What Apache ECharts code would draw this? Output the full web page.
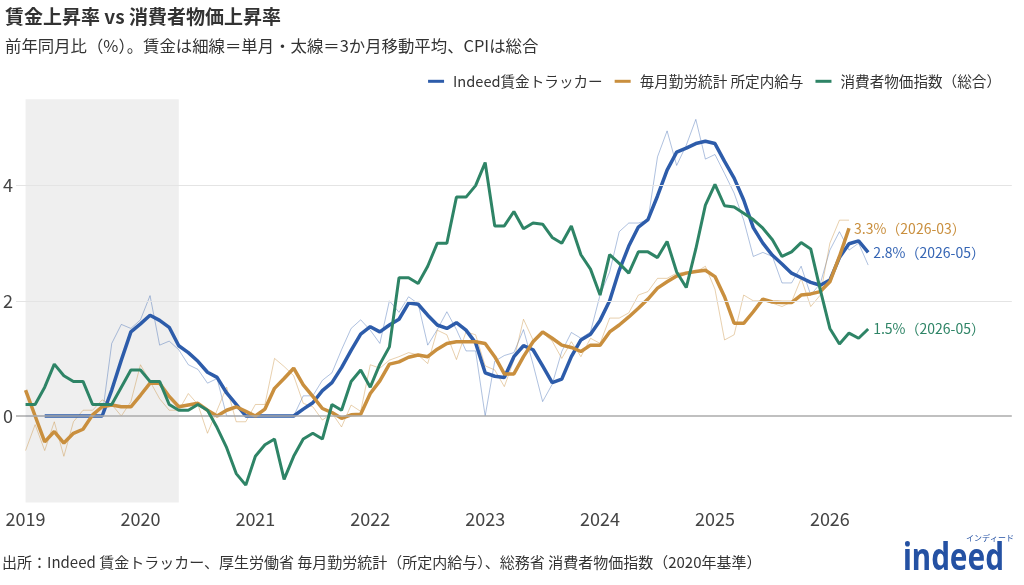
<!DOCTYPE html>
<html>
<head>
<meta charset="utf-8">
<script src="https://cdn.jsdelivr.net/npm/echarts@6/dist/echarts.min.js"></script>
<style>
  html, body { margin: 0; padding: 0; background: #fff; }
  #chart { width: 1024px; height: 585px; }
</style>
</head>
<body>
<div id="chart"></div>
<script>
    // 月次カテゴリ（2018-12 〜 2027-08、右端は余白）
    var months = [];
    for (var y = 2018; y <= 2027; y++) {
        for (var m = 1; m <= 12; m++) {
            var key = y + '-' + (m < 10 ? '0' : '') + m;
            if (key >= '2018-12' && key <= '2027-08') months.push(key);
        }
    }
    var yearTicks = ['2019', '2020', '2021', '2022', '2023', '2024', '2025', '2026'];
    var shadeRange = ['2019-01', '2020-05'];

    // Indeed 賃金トラッカー（単月）2019-01〜
    var indeedStart = '2019-01';
    var indeedMonthly = [
        0, 0, 0, 0, 0, 0, 0, 0, 0,
        1.26, 1.59, 1.52, 1.67, 2.09, 1.23, 1.30, 1.15, 0.89, 0.81, 0.57, 0.65,
        0, 0, 0, 0, 0, 0, 0, 0,
        0.35, 0.35, 0.62, 0.75, 1.15, 1.52, 1.67, 1.49, 1.26, 2.0, 1.8, 2.07,
        1.95, 1.23, 1.5, 1.81, 1.5, 1.13, 1.13, 0.0, 0.95, 1.05, 1.1, 1.5,
        0.9, 0.25, 0.55, 1.12, 1.45, 1.35, 1.46, 2.1, 2.5, 3.2, 3.35, 3.35,
        3.4, 4.5, 4.95, 4.35, 4.7, 5.15, 4.46, 4.54, 4.21, 3.87, 3.4, 2.77,
        2.84, 2.77, 2.31, 2.31, 2.6, 2.1, 2.3, 2.88, 3.2, 2.88, 3.0, 2.62
    ];
    // Indeed 賃金トラッカー（3か月移動平均）2019-03〜
    var indeedAvgStart = '2019-03';
    var indeedAvg = [
        0, 0, 0, 0, 0, 0, 0,
        0.45, 0.97, 1.46, 1.6, 1.75, 1.66, 1.54, 1.22, 1.1, 0.95, 0.76, 0.67,
        0.4, 0.2, 0, 0, 0, 0, 0, 0,
        0.12, 0.23, 0.44, 0.58, 0.84, 1.14, 1.42, 1.55, 1.46, 1.58, 1.68, 1.96,
        1.94, 1.75, 1.58, 1.52, 1.62, 1.49, 1.27, 0.75, 0.69, 0.67, 1.03, 1.22,
        1.15, 0.87, 0.58, 0.64, 1.03, 1.32, 1.42, 1.66, 2.0, 2.53, 2.95, 3.28,
        3.41, 3.82, 4.27, 4.58, 4.65, 4.73, 4.77, 4.73, 4.42, 4.13, 3.75, 3.27,
        3.0, 2.79, 2.64, 2.48, 2.4, 2.32, 2.27, 2.36, 2.75, 2.99, 3.04, 2.84
    ];

    // 毎月勤労統計 所定内給与（単月）2019-01〜
    var maikinStart = '2019-01';
    var maikinMonthly = [
        -0.6, -0.15, -0.6, -0.1, -0.7, -0.1, 0.1, 0.1, 0.28, 0.2, 0.0, 0.25,
        0.89, 0.6, 0.3, 0.1, 0.1, 0.39, 0.2, -0.3, 0.1, 0.5, -0.1, -0.1,
        0.2, 0.2, 1.0, 0.86, 0.7, 0.22, 0.16, -0.07, 0.05, -0.19, 0.19, 0.08,
        0.89, 0.83, 0.97, 1.03, 1.1, 1.06, 0.91, 1.49, 1.41, 0.98, 1.46, 1.41,
        0.87, 0.8, 0.51, 0.97, 1.68, 1.32, 1.44, 1.3, 1.0, 1.29, 1.03, 1.35,
        1.26, 1.7, 1.7, 1.79, 2.1, 2.16, 2.39, 2.39, 2.48, 2.5, 2.5, 2.6,
        2.2, 1.32, 1.41, 2.1, 2.0, 2.0, 1.96, 1.9, 1.98, 2.39, 1.9, 2.1,
        3.0, 3.4, 3.4
    ];
    // 毎月勤労統計 所定内給与（3か月移動平均）2019-01〜
    var maikinAvgStart = '2019-01';
    var maikinAvg = [
        0.45, 0.0, -0.45, -0.27, -0.47, -0.3, -0.23, 0.02, 0.16, 0.19, 0.16, 0.16,
        0.36, 0.57, 0.57, 0.34, 0.16, 0.19, 0.22, 0.1, 0.0, 0.1, 0.16, 0.08,
        0.0, 0.12, 0.48, 0.65, 0.83, 0.54, 0.34, 0.13, 0.06, -0.04, 0.02, 0.03,
        0.39, 0.61, 0.9, 0.94, 1.02, 1.06, 1.03, 1.16, 1.26, 1.29, 1.29, 1.29,
        1.26, 1.03, 0.73, 0.73, 1.03, 1.29, 1.46, 1.35, 1.23, 1.19, 1.12, 1.23,
        1.23, 1.46, 1.58, 1.72, 1.87, 2.03, 2.22, 2.33, 2.43, 2.48, 2.51, 2.53,
        2.42, 2.07, 1.61, 1.61, 1.81, 2.03, 1.98, 1.97, 1.97, 2.1, 2.12, 2.16,
        2.33, 2.77, 3.26
    ];

    // 消費者物価指数（総合）2019-01〜
    var cpiStart = '2019-01';
    var cpi = [
        0.2, 0.2, 0.5, 0.9, 0.7, 0.6, 0.6, 0.2, 0.2, 0.2, 0.5, 0.8,
        0.8, 0.6, 0.6, 0.2, 0.1, 0.1, 0.2, 0.1, -0.2, -0.55, -1.0, -1.2,
        -0.7, -0.5, -0.4, -1.1, -0.7, -0.4, -0.3, -0.4, 0.2, 0.1, 0.6, 0.8,
        0.5, 0.9, 1.2, 2.4, 2.4, 2.3, 2.6, 3.0, 3.0, 3.8, 3.8, 4.0,
        4.4, 3.3, 3.3, 3.55, 3.25, 3.35, 3.33, 3.1, 3.0, 3.3, 2.8, 2.55,
        2.1, 2.8, 2.65, 2.48, 2.85, 2.85, 2.75, 3.03, 2.5, 2.23, 2.9, 3.66,
        4.02, 3.65, 3.63, 3.52, 3.41, 3.26, 3.06, 2.77, 2.85, 3.01, 2.9, 2.19,
        1.52, 1.25, 1.44, 1.35, 1.51
    ];

    var BLUE = '#2d5caa';
    var ORANGE = '#c98f3e';
    var GREEN = '#2e8466';
    var FONT = '"Noto Sans CJK JP", "Noto Sans", sans-serif';

    function toPairs(start, values) {
        var i0 = months.indexOf(start);
        return values.map(function (v, i) { return [months[i0 + i], v]; });
    }

    function endLabel(color) {
        return {
            show: true,
            distance: 5,
            color: color,
            fontSize: 14,
            fontFamily: FONT,
            formatter: function (p) {
                return p.value[1].toFixed(1) + '%（' + p.value[0] + '）';
            }
        };
    }

    var chart = echarts.init(document.getElementById('chart'));
    var option = {
        animation: false,
        backgroundColor: '#fff',
        textStyle: {fontFamily: FONT},
        title: {
            text: '賃金上昇率 vs 消費者物価上昇率',
            subtext: '前年同月比（%）。賃金は細線＝単月・太線＝3か月移動平均、CPIは総合',
            left: 0,
            top: 2,
            itemGap: 12,
            textStyle: {fontSize: 19, fontWeight: 'bold', color: '#333', fontFamily: FONT},
            subtextStyle: {fontSize: 16.4, color: '#333', fontFamily: FONT}
        },
        legend: {
            data: ['Indeed賃金トラッカー', '毎月勤労統計 所定内給与', '消費者物価指数（総合）'],
            right: 18,
            top: 69,
            icon: 'rect',
            itemWidth: 16,
            itemHeight: 3,
            itemGap: 12,
            textStyle: {fontSize: 14.6, color: '#333', fontFamily: FONT, padding: [0, 0, 0, 4]}
        },
        grid: {
            left: 12.4,
            right: 12.2,
            top: 99.2,
            bottom: 82.6
        },
        xAxis: {
            type: 'category',
            data: months,
            boundaryGap: false,
            axisLine: {show: false},
            axisTick: {show: false},
            splitLine: {show: false},
            axisLabel: {
                fontSize: 18,
                color: '#444',
                margin: 8,
                interval: function (i, v) {
                    return yearTicks.indexOf(v.slice(0, 4)) > -1 && v.slice(5) === '01';
                },
                formatter: function (v) { return v.slice(0, 4); }
            }
        },
        yAxis: {
            type: 'value',
            min: -1.5,
            max: 5.5,
            interval: 0.5,
            axisLine: {show: false},
            axisTick: {show: false},
            splitLine: {show: false},
            axisLabel: {
                fontSize: 18,
                color: '#444',
                margin: 3,
                formatter: function (v) {
                    return (v === 0 || v === 2 || v === 4) ? String(v) : '';
                }
            }
        },
        series: [
            {
                name: 'bg',
                type: 'line',
                data: [],
                silent: true,
                z: 1,
                markArea: {
                    silent: true,
                    itemStyle: {color: '#efefef'},
                    data: [[{xAxis: shadeRange[0]}, {xAxis: shadeRange[1]}]]
                },
                markLine: {
                    silent: true,
                    symbol: 'none',
                    label: {show: false},
                    data: [
                        {yAxis: 2, lineStyle: {color: '#e4e4e4', width: 1.2, type: 'solid'}},
                        {yAxis: 4, lineStyle: {color: '#e4e4e4', width: 1.2, type: 'solid'}},
                        {yAxis: 0, lineStyle: {color: '#ababab', width: 1.5, type: 'solid'}}
                    ]
                }
            },
            {
                name: 'Indeed賃金トラッカー（単月）',
                type: 'line',
                data: toPairs(indeedStart, indeedMonthly),
                showSymbol: false,
                z: 2,
                lineStyle: {color: BLUE, width: 1, opacity: 0.38},
                itemStyle: {color: BLUE}
            },
            {
                name: '毎月勤労統計（単月）',
                type: 'line',
                data: toPairs(maikinStart, maikinMonthly),
                showSymbol: false,
                z: 2,
                lineStyle: {color: ORANGE, width: 1, opacity: 0.42},
                itemStyle: {color: ORANGE}
            },
            {
                name: 'Indeed賃金トラッカー',
                type: 'line',
                data: toPairs(indeedAvgStart, indeedAvg),
                showSymbol: false,
                z: 3,
                lineStyle: {color: BLUE, width: 3.5},
                itemStyle: {color: BLUE},
                endLabel: endLabel('#3565b4')
            },
            {
                name: '毎月勤労統計 所定内給与',
                type: 'line',
                data: toPairs(maikinAvgStart, maikinAvg),
                showSymbol: false,
                z: 4,
                lineStyle: {color: ORANGE, width: 3.5},
                itemStyle: {color: ORANGE},
                endLabel: endLabel(ORANGE)
            },
            {
                name: '消費者物価指数（総合）',
                type: 'line',
                data: toPairs(cpiStart, cpi),
                showSymbol: false,
                z: 5,
                lineStyle: {color: GREEN, width: 3},
                itemStyle: {color: GREEN},
                endLabel: endLabel(GREEN)
            }
        ],
        graphic: [
            {
                type: 'text',
                left: 2,
                top: 555,
                style: {
                    text: '出所：Indeed 賃金トラッカー、厚生労働省 毎月勤労統計（所定内給与）、総務省 消費者物価指数（2020年基準）',
                    fontSize: 15,
                    fontFamily: FONT,
                    fill: '#333'
                }
            },
            {
                type: 'text',
                x: 903,
                y: 540,
                scaleX: 0.78,
                style: {
                    text: 'indeed',
                    fontSize: 38,
                    fontWeight: 'bold',
                    fontFamily: '"Noto Sans", sans-serif',
                    fill: '#2451a3'
                }
            },
            {
                type: 'text',
                x: 966,
                y: 534,
                style: {
                    text: 'インディード',
                    fontSize: 8,
                    fontFamily: FONT,
                    fill: '#2451a3'
                }
            }
        ]
    };
    chart.setOption(option);
</script>
</body>
</html>
